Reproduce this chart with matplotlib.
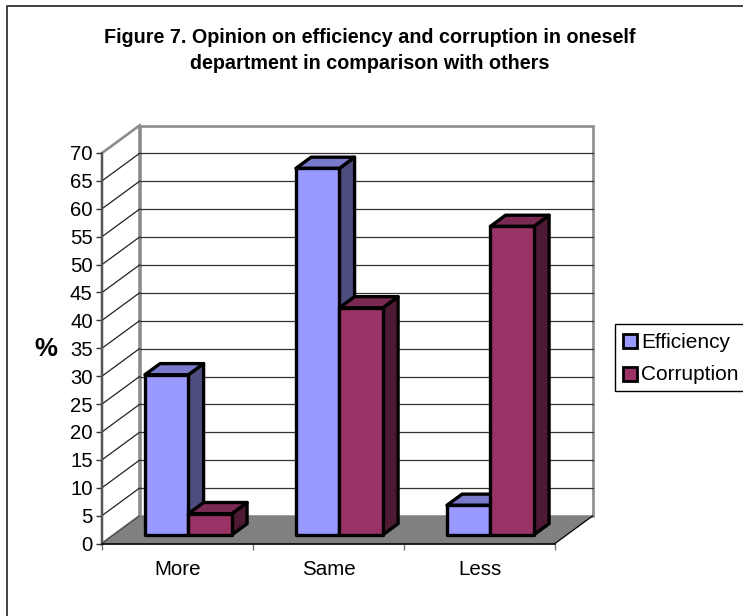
import matplotlib
matplotlib.use("Agg")
import matplotlib.pyplot as plt
from matplotlib.lines import Line2D
from matplotlib.patches import Polygon, Rectangle

categories = ["More", "Same", "Less"]
efficiency = [28.7, 65.7, 5.3]
corruption = [3.8, 40.7, 55.3]
y_ticks = list(range(0, 75, 5))
title = "Figure 7. Opinion on efficiency and corruption in oneself\ndepartment in comparison with others"

W, H = 743, 616

plt.rcParams['font.family'] = ['Liberation Sans', 'DejaVu Sans']

fig = plt.figure(figsize=(W / 100, H / 100), dpi=100)

# outer frame, only left and top fall inside the picture
fig.add_artist(Line2D([7.5 / W, 7.5 / W, 1], [0, 1 - 5.5 / H, 1 - 5.5 / H], transform=fig.transFigure,
                      color="#333333", lw=1.3))

# front plane of the 3d box
left, right, top, bottom = 102, 555, 153, 543.5
ax = fig.add_axes([left / W, 1 - bottom / H, (right - left) / W, (bottom - top) / H])
ax.set_xlim(0, 3)
ax.set_ylim(0, 70)

# depth of the box in data units
DX = 37.5 / ((right - left) / 3)
DY = 27.5 / ((bottom - top) / 70)


def pt(x, y, d=0.0):
    return (x + d * DX, y + d * DY)


def poly(points, **kw):
    kw.setdefault("clip_on", False)
    ax.add_patch(Polygon(points, closed=True, **kw))


wall = "#8c8c8c"

# floor, walls
poly([pt(0, 0), pt(3, 0), pt(3, 0, 1), pt(0, 0, 1)], fc="#808080", ec="none", zorder=1)
poly([pt(0, 0, 1), pt(3, 0, 1), pt(3, 70, 1), pt(0, 70, 1)], fc="white", ec=wall, lw=1.9, zorder=1)
poly([pt(0, 0), pt(0, 0, 1), pt(0, 70, 1), pt(0, 70)], fc="white", ec=wall, lw=1.9, zorder=1)
poly([pt(0, 0), pt(3, 0), pt(3, 0, 1), pt(0, 0, 1)], fc="#808080", ec="none", zorder=1.5)

# gridlines on both walls
for v in y_ticks[1:-1]:
    a, b = pt(0, v, 1), pt(3, v, 1)
    ax.plot([a[0], b[0]], [a[1], b[1]], color="#333333", lw=0.9, clip_on=False, zorder=2)
    a, b = pt(0, v), pt(0, v, 1)
    ax.plot([a[0], b[0]], [a[1], b[1]], color="#222222", lw=0.9, clip_on=False, zorder=2)

# front axis lines + ticks
ax.plot([0, 0], [0, 70], color="#555555", lw=1.5, clip_on=False, zorder=2)
ax.plot([0, 3], [0, 0], color="black", lw=1.2, clip_on=False, zorder=2)
ax.plot([0, DX * 1], [0, DY * 1], color="#333333", lw=0.6, clip_on=False, zorder=2)
ax.plot([3, 3 + DX], [0, DY], color="black", lw=0.9, clip_on=False, zorder=2)
for s in ax.spines.values():
    s.set_visible(False)
ax.patch.set_visible(False)
ax.set_xticks([0, 1, 2, 3])
ax.set_xticklabels([])
ax.set_yticks(y_ticks)
ax.tick_params(axis="y", length=4.2, width=1, color="#333333", labelsize=14.6, pad=2.5)
ax.tick_params(axis="x", length=4.3, width=1, color="#777777")
for i, c in enumerate(categories):
    ax.annotate(c, (i + 0.5, 0), xytext=(0, -19), textcoords="offset points", ha="center", va="center",
                fontsize=14.8)

# bars
bar_w = 0.288
bar_x = 0.206
d0, d1 = 0.315, 0.72
series = [
    (efficiency, "#9999FF", "#7A7ACC", "#4D4D80"),
    (corruption, "#993366", "#7A2952", "#4D1933"),
]
z = 3
for i in range(3):
    for j, (vals, front, top_c, side) in enumerate(series):
        x0 = i + bar_x + j * bar_w
        x1 = x0 + bar_w
        v = vals[i]
        edge = dict(ec="black", lw=2.4, joinstyle="round")
        poly([pt(x1, 0, d0), pt(x1, 0, d1), pt(x1, v, d1), pt(x1, v, d0)], fc=side, zorder=z, **edge)
        poly([pt(x0, v, d0), pt(x1, v, d0), pt(x1, v, d1), pt(x0, v, d1)], fc=top_c, zorder=z, **edge)
        poly([pt(x0, 0, d0), pt(x1, 0, d0), pt(x1, v, d0), pt(x0, v, d0)], fc=front, zorder=z, **edge)
        z += 1

# title and y label
fig.text(370 / W, 1 - 50.5 / H, title, ha="center", va="center", fontsize=14.25, fontweight="bold", linespacing=1.52)
fig.text(46 / W, 1 - 349.5 / H, "%", ha="center", va="center", fontsize=18.5, fontweight="bold")

# legend box runs off the right edge
fig.add_artist(Rectangle((614.5 / W, 1 - 390.5 / H), 140 / W, 67 / H, transform=fig.transFigure,
                         fill=True, fc="white", ec="black", lw=1.0))
for name, color, yy in [("Efficiency", "#9999FF", 340.5), ("Corruption", "#993366", 373.5)]:
    fig.add_artist(Rectangle((622.5 / W, 1 - (yy + 7) / H), 14 / W, 14 / H, transform=fig.transFigure,
                             fc=color, ec="black", lw=2))
    fig.text(641.5 / W, 1 - (yy + 1.5) / H, name, ha="left", va="center", fontsize=15)

fig.savefig("out.png", dpi=100)
